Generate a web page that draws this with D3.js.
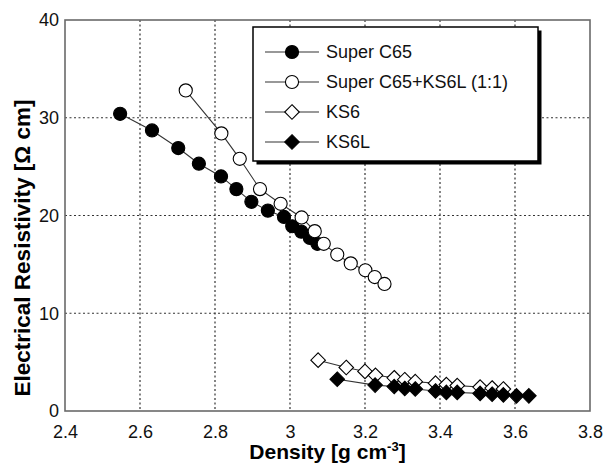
<!DOCTYPE html>
<html>
<head>
<meta charset="utf-8">
<script src="https://cdn.jsdelivr.net/npm/d3@7"></script>
<style>
  body { margin: 0; background: #fff; }
  text { font-family: "Liberation Sans", Arial, sans-serif; }
</style>
</head>
<body>
<svg id="drawing_region"></svg>
<script>
// data
const series_names = ['Super C65', 'Super C65+KS6L (1:1)', 'KS6', 'KS6L'];

const c65_density = [2.547, 2.632, 2.702, 2.757, 2.816, 2.857, 2.897, 2.941, 2.984, 3.006, 3.030, 3.053, 3.073];
const c65_resist  = [30.4, 28.7, 26.9, 25.3, 24.0, 22.7, 21.4, 20.5, 19.85, 18.9, 18.35, 17.7, 17.1];

const mix_density = [2.722, 2.817, 2.866, 2.920, 2.975, 3.031, 3.066, 3.090, 3.126, 3.162, 3.201, 3.226, 3.252];
const mix_resist  = [32.8, 28.4, 25.8, 22.7, 21.2, 19.8, 18.4, 17.1, 16.0, 15.1, 14.4, 13.7, 13.0];

const ks6_density = [3.075, 3.150, 3.200, 3.228, 3.278, 3.306, 3.334, 3.388, 3.417, 3.446, 3.507, 3.539, 3.569];
const ks6_resist  = [5.2, 4.45, 4.05, 3.65, 3.4, 3.2, 3.0, 2.85, 2.7, 2.6, 2.45, 2.35, 2.25];

const ks6l_density = [3.126, 3.227, 3.278, 3.306, 3.334, 3.388, 3.417, 3.446, 3.507, 3.539, 3.569, 3.604, 3.637];
const ks6l_resist  = [3.25, 2.65, 2.5, 2.3, 2.25, 2.05, 1.9, 1.9, 1.8, 1.72, 1.65, 1.55, 1.55];

const x_ticks = [2.4, 2.6, 2.8, 3.0, 3.2, 3.4, 3.6, 3.8];
const y_ticks = [0, 10, 20, 30, 40];

class ScatterLine {
    constructor (config, data) {
        this.config = {
            parent: config.parent,
            width: config.width || 256,
            height: config.height || 256,
            margin: config.margin || {top:10, right:10, bottom:10, left:10},
            xlabel: config.xlabel || '',
            ylabel: config.ylabel || ''
        };
        this.data = data;
        this.init();
    }

    init() {
        let self = this;

        self.svg = d3.select(self.config.parent)
            .attr('width', self.config.width)
            .attr('height', self.config.height);

        self.chart = self.svg.append('g')
            .attr('transform', `translate(${self.config.margin.left}, ${self.config.margin.top})`);

        self.inner_width = self.config.width - self.config.margin.left - self.config.margin.right;
        self.inner_height = self.config.height - self.config.margin.top - self.config.margin.bottom;

        self.xscale = d3.scaleLinear()
            .domain([2.4, 3.8])
            .range([0, self.inner_width]);

        self.yscale = d3.scaleLinear()
            .domain([0, 40])
            .range([self.inner_height, 0]);

        self.xaxis = d3.axisBottom(self.xscale)
            .tickValues(x_ticks)
            .tickSize(0)
            .tickPadding(14)
            .tickFormat(d => d3.format('~g')(d));

        self.yaxis = d3.axisLeft(self.yscale)
            .tickValues(y_ticks)
            .tickSize(0)
            .tickPadding(6);

        self.grid_group = self.chart.append('g');
        self.xaxis_group = self.chart.append('g')
            .attr('transform', `translate(0, ${self.inner_height})`);
        self.yaxis_group = self.chart.append('g');
        self.mark_group = self.chart.append('g');
        self.legend_group = self.svg.append('g')
            .attr('transform', 'translate(253, 27)');
    }

    render() {
        let self = this;

        //グリッド
        self.grid_group.selectAll('.vgrid')
            .data(x_ticks.slice(1, -1))
            .join('line')
            .attr('class', 'vgrid')
            .attr('x1', d => self.xscale(d))
            .attr('x2', d => self.xscale(d))
            .attr('y1', 0)
            .attr('y2', self.inner_height);

        self.grid_group.selectAll('.hgrid')
            .data(y_ticks.slice(1, -1))
            .join('line')
            .attr('class', 'hgrid')
            .attr('x1', 0)
            .attr('x2', self.inner_width)
            .attr('y1', d => self.yscale(d))
            .attr('y2', d => self.yscale(d));

        self.grid_group.selectAll('line')
            .attr('stroke', '#333')
            .attr('stroke-width', 1.2)
            .attr('stroke-dasharray', '2,2.5');

        // frame
        self.chart.append('rect')
            .attr('width', self.inner_width)
            .attr('height', self.inner_height)
            .attr('fill', 'none')
            .attr('stroke', '#6a6a6a')
            .attr('stroke-width', 1.6);

        self.xaxis_group.call(self.xaxis);
        self.yaxis_group.call(self.yaxis);
        self.chart.selectAll('.domain').remove();
        self.chart.selectAll('.tick text')
            .style('font-size', '18px')
            .attr('fill', '#111');

        const line = d3.line()
            .x(d => self.xscale(d[0]))
            .y(d => self.yscale(d[1]));

        self.data.forEach(s => {
            const pts = s.x.map((v, i) => [v, s.y[i]]);
            const g = self.mark_group.append('g');
            g.append('path')
                .attr('d', line(pts))
                .attr('fill', 'none')
                .attr('stroke', '#333')
                .attr('stroke-width', 1.1);
            g.selectAll('path.mk')
                .data(pts)
                .join('path')
                .attr('class', 'mk')
                .attr('transform', d => `translate(${self.xscale(d[0])}, ${self.yscale(d[1])})`)
                .attr('d', d3.symbol().type(s.shape).size(s.size))
                .attr('fill', s.fill)
                .attr('stroke', '#000')
                .attr('stroke-width', 1.1);
        });

        // axis labels
        self.svg.append('text')
            .attr('x', self.config.margin.left + self.inner_width / 2)
            .attr('y', 459)
            .attr('text-anchor', 'middle')
            .style('font-size', '21px')
            .style('font-weight', 'bold')
            .text('Density [g cm')
            .call(t => t.append('tspan').attr('dy', -8).style('font-size', '13px').text('-3'))
            .call(t => t.append('tspan').attr('dy', 8).text(']'));

        self.svg.append('text')
            .attr('transform', `translate(30, 248) rotate(-90)`)
            .attr('text-anchor', 'middle')
            .style('font-size', '22.5px')
            .style('font-weight', 'bold')
            .text(self.config.ylabel);

        //凡例
        const lw = 285, lh = 134;
        self.legend_group.append('rect')
            .attr('x', 3.5).attr('y', 3.5)
            .attr('width', lw).attr('height', lh)
            .attr('fill', '#000');
        self.legend_group.append('rect')
            .attr('width', lw).attr('height', lh)
            .attr('fill', '#fff')
            .attr('stroke', '#000')
            .attr('stroke-width', 1.5);

        const rows = self.legend_group.selectAll('.row')
            .data(self.data)
            .join('g')
            .attr('class', 'row')
            .attr('transform', (d, i) => `translate(0, ${25 + i * 30})`);
        rows.append('line')
            .attr('x1', 12).attr('x2', 66)
            .attr('stroke', '#333')
            .attr('stroke-width', 1.1);
        rows.append('path')
            .attr('transform', 'translate(39, 0)')
            .attr('d', d => d3.symbol().type(d.shape).size(d.size)())
            .attr('fill', d => d.fill)
            .attr('stroke', '#000')
            .attr('stroke-width', 1.1);
        rows.append('text')
            .attr('x', 73)
            .attr('dy', '0.35em')
            .style('font-size', '18px')
            .attr('fill', '#111')
            .text(d => d.name);
    }
}

const data = [
    {name: series_names[0], x: c65_density, y: c65_resist, shape: d3.symbolCircle, size: 135, fill: '#000'},
    {name: series_names[1], x: mix_density, y: mix_resist, shape: d3.symbolCircle, size: 135, fill: '#fff'},
    {name: series_names[2], x: ks6_density, y: ks6_resist, shape: d3.symbolDiamond2, size: 135, fill: '#fff'},
    {name: series_names[3], x: ks6l_density, y: ks6l_resist, shape: d3.symbolDiamond2, size: 135, fill: '#000'}
];

const chart = new ScatterLine({
    parent: '#drawing_region',
    width: 604,
    height: 466,
    margin: {top:20, right:14, bottom:55, left:65},
    ylabel: 'Electrical Resistivity [\u03A9 cm]'
}, data);
chart.render();
</script>
</body>
</html>
